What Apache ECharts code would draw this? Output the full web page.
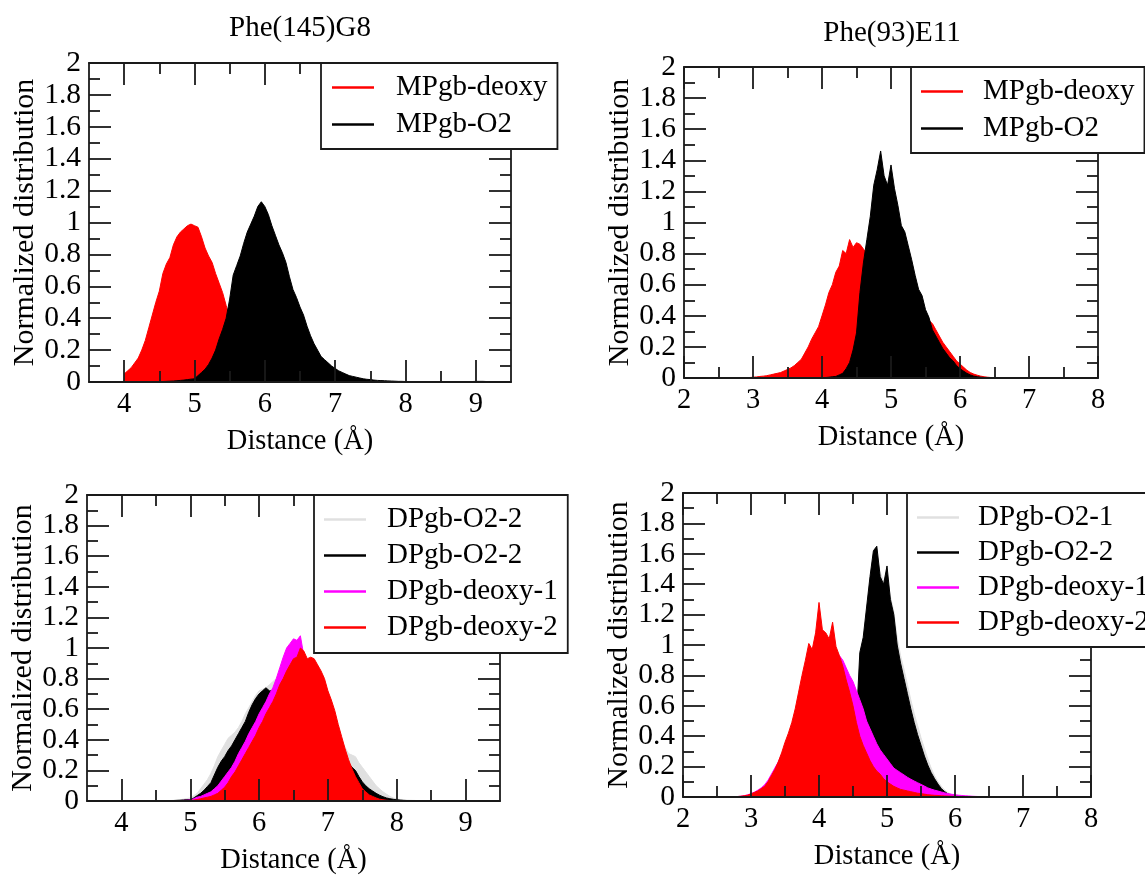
<!DOCTYPE html>
<html>
<head>
<meta charset="utf-8">
<script src="https://cdn.jsdelivr.net/npm/echarts@6/dist/echarts.min.js"></script>
<style>
html,body{margin:0;padding:0;background:#fff;}
#c{width:1145px;height:876px;}
</style>
</head>
<body>
<div id="c"></div>
<script>
// ---------------- DATA ----------------
const BIN = 0.05; // histogram bin width (Å)
const yTicksMax = 2;

// Panel 1 : Phe(145)G8
const p1Title = 'Phe(145)G8';
const p1XLabels = [4, 5, 6, 7, 8, 9];
const p1XMinor = [4.5, 5.5, 6.5, 7.5, 8.5];
const p1Labels = ['MPgb-deoxy', 'MPgb-O2'];
const p1DeoxyStart = 4.00;
const p1Deoxy = [0.05,0.07,0.09,0.12,0.15,0.20,0.26,0.34,0.42,0.50,0.57,0.68,0.74,0.78,0.86,0.91,0.94,0.96,0.98,0.99,
  0.98,0.97,0.91,0.84,0.79,0.75,0.68,0.62,0.56,0.48,0.40,0.32,0.24,0.17,0.11,0.07,0.04,0.02,0.01,0.005,0];
const p1O2Start = 4.50;
const p1O2 = [0.002,0.003,0.004,0.005,0.006,0.008,0.01,0.012,0.015,0.018,
  0.02,0.04,0.06,0.08,0.11,0.15,0.20,0.27,0.33,0.40,
  0.52,0.67,0.73,0.79,0.87,0.94,0.99,1.04,1.10,1.13,
  1.10,1.05,0.98,0.92,0.86,0.81,0.75,0.66,0.58,0.53,
  0.47,0.42,0.35,0.29,0.24,0.20,0.16,0.14,0.12,0.10,
  0.085,0.07,0.06,0.05,0.04,0.035,0.03,0.025,0.02,0.017,
  0.015,0.012,0.01,0.009,0.008,0.007,0.006,0.005,0.004,0.004,
  0.003,0.003,0.003,0.002,0.002,0.002,0.002,0.002,0.001,0.001,
  0.001,0.001,0.001,0.001,0.001,0.002,0.002,0.002,0.003,0.003,
  0.004,0.004,0.004,0.003,0.003,0.003,0.003,0.003,0.003,0.003,
  0.003];

// Panel 2 : Phe(93)E11
const p2Title = 'Phe(93)E11';
const p2XLabels = [2, 3, 4, 5, 6, 7, 8];
const p2XMinor = [2.5, 3.5, 4.5, 5.5, 6.5, 7.5];
const p2Labels = ['MPgb-deoxy', 'MPgb-O2'];
const p2DeoxyStart = 2.90;
const p2Deoxy = [0.002,0.003,0.005,0.007,0.01,0.012,0.015,0.02,0.025,0.03,
  0.035,0.045,0.055,0.065,0.08,0.10,0.12,0.16,0.20,0.25,
  0.29,0.33,0.40,0.47,0.55,0.60,0.68,0.72,0.82,0.80,
  0.89,0.84,0.87,0.86,0.83,0.80,0.78,0.75,0.72,0.69,
  0.66,0.63,0.60,0.58,0.55,0.52,0.50,0.47,0.45,0.43,
  0.41,0.39,0.38,0.37,0.35,0.31,0.27,0.23,0.20,0.17,
  0.14,0.11,0.09,0.07,0.05,0.035,0.025,0.018,0.012,0.008,
  0.005,0.003,0.002,0.001,0];
const p2O2Start = 4.00;
const p2O2 = [0.002,0.003,0.005,0.008,0.01,0.02,0.03,0.06,0.10,0.18,
  0.29,0.55,0.74,0.89,1.04,1.24,1.34,1.46,1.30,1.24,
  1.37,1.22,1.11,0.98,0.94,0.85,0.76,0.66,0.57,0.53,
  0.44,0.39,0.31,0.27,0.23,0.19,0.16,0.13,0.11,0.08,
  0.06,0.045,0.03,0.02,0.012,0.008,0.005,0.003,0.002,0.001,
  0];

// Panel 3 : DPgb, Phe(145)G8
const p3XLabels = [4, 5, 6, 7, 8, 9];
const p3XMinor = [4.5, 5.5, 6.5, 7.5, 8.5];
const p3Labels = ['DPgb-O2-2', 'DPgb-O2-2', 'DPgb-deoxy-1', 'DPgb-deoxy-2'];
const p3O2aStart = 4.60;
const p3O2a = [0.001,0.002,0.003,0.004,0.006,0.008,0.012,0.016,
  0.02,0.035,0.05,0.08,0.11,0.14,0.18,0.23,0.29,0.33,
  0.37,0.41,0.43,0.45,0.48,0.52,0.57,0.61,0.65,0.69,
  0.72,0.73,0.74,0.76,0.78,0.80,0.82,0.84,0.85,0.86,
  0.86,0.86,0.86,0.85,0.84,0.82,0.80,0.76,0.72,0.67,
  0.62,0.56,0.50,0.45,0.40,0.35,0.31,0.30,0.29,0.25,
  0.22,0.19,0.16,0.13,0.10,0.08,0.06,0.045,0.03,0.02,
  0.013,0.01,0.008,0.006,0.005,0.004,0.003,0.002,0.002,0.001,
  0];
const p3O2bStart = 4.60;
const p3O2b = [0.001,0.001,0.002,0.003,0.004,0.005,0.007,0.009,
  0.01,0.02,0.035,0.05,0.07,0.095,0.12,0.17,0.22,0.26,
  0.29,0.33,0.36,0.40,0.44,0.48,0.52,0.58,0.63,0.67,
  0.70,0.72,0.74,0.72,0.72,0.72,0.73,0.75,0.77,0.78,
  0.78,0.77,0.76,0.74,0.72,0.69,0.66,0.62,0.58,0.54,
  0.50,0.45,0.40,0.36,0.32,0.28,0.25,0.22,0.20,0.16,
  0.125,0.10,0.08,0.065,0.05,0.038,0.028,0.02,0.015,0.011,
  0.008,0.006,0.004,0.003,0.003,0.002,0.001,0.001,0];
const p3Deoxy1Start = 4.60;
const p3Deoxy1 = [0.001,0.001,0.001,0.002,0.002,0.003,0.004,0.005,
  0.007,0.015,0.025,0.03,0.04,0.05,0.06,0.08,0.10,0.13,
  0.16,0.19,0.22,0.26,0.31,0.35,0.39,0.44,0.48,0.52,
  0.57,0.61,0.65,0.70,0.74,0.80,0.87,0.94,1.00,1.03,
  1.06,1.05,1.08,0.95,0.90,0.85,0.80,0.74,0.68,0.61,
  0.55,0.49,0.43,0.37,0.32,0.27,0.22,0.18,0.14,0.10,
  0.07,0.05,0.03,0.02,0.01,0.005,0];
const p3Deoxy2Start = 4.60;
const p3Deoxy2 = [0.001,0.001,0.001,0.001,0.001,0.002,0.002,0.002,
  0.003,0.006,0.01,0.015,0.02,0.025,0.03,0.04,0.05,0.07,
  0.09,0.12,0.16,0.19,0.23,0.27,0.31,0.35,0.39,0.43,
  0.48,0.52,0.57,0.61,0.65,0.70,0.76,0.80,0.85,0.89,
  0.93,0.94,1.00,0.98,0.93,0.94,0.93,0.89,0.85,0.80,
  0.72,0.66,0.59,0.50,0.42,0.34,0.27,0.21,0.16,0.12,
  0.08,0.06,0.04,0.03,0.02,0.012,0.008,0.005,0.003,0.001,
  0];

// Panel 4 : DPgb, Phe(93)E11
const p4XLabels = [2, 3, 4, 5, 6, 7, 8];
const p4XMinor = [2.5, 3.5, 4.5, 5.5, 6.5, 7.5];
const p4Labels = ['DPgb-O2-1', 'DPgb-O2-2', 'DPgb-deoxy-1', 'DPgb-deoxy-2'];
const p4O2aStart = 4.00;
const p4O2a = [0.001,0.002,0.003,0.005,0.008,0.012,0.02,0.04,0.08,0.15,
  0.28,0.48,0.90,1.02,1.20,1.40,1.55,1.58,1.48,1.42,
  1.45,1.32,1.22,1.05,0.93,0.84,0.74,0.64,0.55,0.47,
  0.39,0.32,0.25,0.19,0.14,0.10,0.07,0.045,0.028,0.017,
  0.01,0.006,0.004,0.002,0.001,0.001,0];
const p4O2bStart = 4.00;
const p4O2b = [0.001,0.002,0.003,0.005,0.008,0.012,0.02,0.04,0.08,0.15,
  0.28,0.50,0.95,1.05,1.25,1.45,1.62,1.65,1.45,1.40,
  1.52,1.30,1.20,1.00,0.88,0.78,0.68,0.58,0.49,0.41,
  0.34,0.27,0.21,0.16,0.12,0.085,0.055,0.035,0.02,0.012,
  0.007,0.004,0.002,0.001,0];
const p4Deoxy1Start = 2.70;
const p4Deoxy1 = [0.001,0.002,0.003,0.005,0.009,0.014,
  0.022,0.032,0.045,0.06,0.08,0.11,0.15,0.19,0.23,0.28,
  0.33,0.39,0.45,0.52,0.60,0.67,0.75,0.82,0.88,0.92,
  0.95,0.97,0.98,0.98,0.98,0.96,0.93,0.90,0.85,0.80,
  0.76,0.70,0.64,0.58,0.50,0.45,0.40,0.35,0.31,0.28,
  0.25,0.22,0.19,0.175,0.16,0.145,0.13,0.117,0.105,0.094,
  0.083,0.072,0.06,0.052,0.045,0.039,0.033,0.027,0.022,0.018,
  0.015,0.012,0.01,0.008,0.007,0.005,0.004,0.003,0.003,0.002,
  0.002,0.001,0.001,0.001,0.001,0.001,0];
const p4Deoxy2Start = 2.70;
const p4Deoxy2 = [0.001,0.002,0.003,0.005,0.008,0.012,
  0.02,0.03,0.04,0.055,0.07,0.10,0.14,0.18,0.23,0.29,
  0.36,0.42,0.49,0.58,0.69,0.80,0.90,1.01,0.97,1.08,
  1.28,1.10,1.08,1.04,1.15,0.99,0.93,0.86,0.77,0.69,
  0.60,0.49,0.40,0.34,0.29,0.24,0.20,0.17,0.15,0.12,
  0.10,0.085,0.07,0.06,0.05,0.045,0.04,0.035,0.03,0.025,
  0.022,0.019,0.015,0.013,0.011,0.01,0.008,0.007,0.006,0.005,
  0.004,0.003,0.003,0.002,0.002,0.001,0.001,0.001,0];

const xName = 'Distance (Å)';
const yName = 'Normalized distribution';

// ---------------- BUILD ----------------
const FONT = "'Liberation Serif','Times New Roman',serif";
const INK = '#1a1a1a';
const RED = '#ff0000', BLACK = '#000000', MAGENTA = '#ff00ff', GRAY = '#e0e0e0';

function pts(start, vals) {
  return vals.map((v, i) => [Math.round((start + i * BIN) * 1000) / 1000, v]);
}

const panels = [
  { grid: {left: 89, top: 63, width: 422, height: 319}, xmin: 3.5, xmax: 9.5,
    major: p1XLabels, minor: p1XMinor, yGap: 47,
    legend: {left: 321, top: 63, padding: [10, 10, 10, 11], itemGap: 8, textPad: 17},
    series: [
      {label: p1Labels[0], color: RED, data: pts(p1DeoxyStart, p1Deoxy)},
      {label: p1Labels[1], color: BLACK, data: pts(p1O2Start, p1O2)}
    ]},
  { grid: {left: 684, top: 67, width: 414, height: 311}, xmin: 2, xmax: 8,
    major: p2XLabels, minor: p2XMinor, yGap: 48,
    legend: {left: 911, top: 67, padding: [10, 10, 10, 10], itemGap: 8, textPad: 15},
    series: [
      {label: p2Labels[0], color: RED, data: pts(p2DeoxyStart, p2Deoxy)},
      {label: p2Labels[1], color: BLACK, data: pts(p2O2Start, p2O2)}
    ]},
  { grid: {left: 87, top: 495, width: 413, height: 310}, xmin: 3.5, xmax: 9.5,
    major: p3XLabels, minor: p3XMinor, yGap: 47,
    legend: {left: 314, top: 495, padding: [10, 10, 11, 10], itemGap: 7, textPad: 16},
    series: [
      {label: p3Labels[0], color: GRAY, data: pts(p3O2aStart, p3O2a)},
      {label: p3Labels[1], color: BLACK, data: pts(p3O2bStart, p3O2b)},
      {label: p3Labels[2], color: MAGENTA, data: pts(p3Deoxy1Start, p3Deoxy1)},
      {label: p3Labels[3], color: RED, data: pts(p3Deoxy2Start, p3Deoxy2)}
    ]},
  { grid: {left: 683, top: 493, width: 408, height: 304}, xmin: 2, xmax: 8,
    major: p4XLabels, minor: p4XMinor, yGap: 48,
    legend: {left: 907, top: 493, padding: [10, 10, 10, 10], itemGap: 6, textPad: 14},
    series: [
      {label: p4Labels[0], color: GRAY, data: pts(p4O2aStart, p4O2a)},
      {label: p4Labels[1], color: BLACK, data: pts(p4O2bStart, p4O2b)},
      {label: p4Labels[2], color: MAGENTA, data: pts(p4Deoxy1Start, p4Deoxy1)},
      {label: p4Labels[3], color: RED, data: pts(p4Deoxy2Start, p4Deoxy2)}
    ]}
];

const grids = [], xAxes = [], yAxes = [], series = [], legends = [];
const labelMap = {};
const txt = {fontFamily: FONT, color: '#000', fontWeight: 'normal'};

panels.forEach((p, gi) => {
  grids.push(Object.assign({containLabel: false}, p.grid));
  const tickLine = {color: INK, width: 1.8};
  const baseX = {type: 'value', gridIndex: gi, min: p.xmin, max: p.xmax, splitLine: {show: false}, z: 20};
  const mainIdx = xAxes.length;
  xAxes.push(Object.assign({}, baseX, {
    position: 'bottom',
    axisLine: {show: true, onZero: false, lineStyle: {color: INK, width: 1.8}},
    axisTick: {show: true, inside: true, length: 22, customValues: p.major, lineStyle: tickLine},
    axisLabel: Object.assign({show: true, customValues: p.major, margin: 8, fontSize: 28.5}, txt),
    name: xName, nameLocation: 'middle', nameGap: 45,
    nameTextStyle: Object.assign({fontSize: 28.5}, txt)
  }));
  xAxes.push(Object.assign({}, baseX, {
    position: 'bottom',
    axisLine: {show: false, onZero: false},
    axisTick: {show: true, inside: true, length: 11, customValues: p.minor, lineStyle: tickLine},
    axisLabel: {show: false}
  }));
  xAxes.push(Object.assign({}, baseX, {
    position: 'top',
    axisLine: {show: true, onZero: false, lineStyle: {color: INK, width: 1.8}},
    axisTick: {show: true, inside: true, length: 22, customValues: p.major, lineStyle: tickLine},
    axisLabel: {show: false}
  }));
  xAxes.push(Object.assign({}, baseX, {
    position: 'top',
    axisLine: {show: false, onZero: false},
    axisTick: {show: true, inside: true, length: 11, customValues: p.minor, lineStyle: tickLine},
    axisLabel: {show: false}
  }));
  const yIdx = yAxes.length;
  const baseY = {type: 'value', gridIndex: gi, min: 0, max: yTicksMax, interval: 0.2, splitLine: {show: false}, z: 20,
    axisLine: {show: true, onZero: false, lineStyle: {color: INK, width: 1.8}},
    axisTick: {show: true, inside: true, length: 22, lineStyle: tickLine},
    minorTick: {show: true, splitNumber: 2, length: 11, lineStyle: tickLine}};
  yAxes.push(Object.assign({}, baseY, {
    position: 'left',
    axisLabel: Object.assign({show: true, margin: 8, fontSize: 29.5}, txt),
    name: yName, nameLocation: 'middle', nameGap: p.yGap,
    nameTextStyle: Object.assign({fontSize: 30}, txt)
  }));
  yAxes.push(Object.assign({}, baseY, {position: 'right', axisLabel: {show: false}}));

  const names = [];
  p.series.forEach((s, si) => {
    const id = 'p' + gi + 's' + si;
    labelMap[id] = s.label;
    names.push(id);
    series.push({
      type: 'line', name: id, xAxisIndex: mainIdx, yAxisIndex: yIdx,
      z: 2 + si,
      data: s.data, symbol: 'none', showSymbol: false, silent: true,
      color: s.color,
      lineStyle: {color: s.color, width: 1},
      areaStyle: {color: s.color, opacity: 1},
      itemStyle: {color: s.color}
    });
  });
  legends.push({
    orient: 'vertical', left: p.legend.left, top: p.legend.top, z: 30,
    padding: p.legend.padding, itemGap: p.legend.itemGap,
    itemWidth: 42, itemHeight: 2.5, icon: 'rect',
    backgroundColor: '#fff', borderColor: INK, borderWidth: 1.8,
    selectedMode: false, data: names,
    formatter: (n) => labelMap[n],
    textStyle: Object.assign({fontSize: 29, padding: [0, 0, 0, p.legend.textPad]}, txt)
  });
});

const titles = [
  {text: p1Title, left: 300, top: 14, textAlign: 'center', padding: 0,
   textStyle: Object.assign({fontSize: 29}, txt)},
  {text: p2Title, left: 892, top: 19, textAlign: 'center', padding: 0,
   textStyle: Object.assign({fontSize: 29}, txt)}
];

const chart = echarts.init(document.getElementById('c'), null, {renderer: 'canvas'});
chart.setOption({
  backgroundColor: '#fff',
  animation: false,
  title: titles,
  grid: grids,
  xAxis: xAxes,
  yAxis: yAxes,
  legend: legends,
  series: series
});
</script>
</body>
</html>
